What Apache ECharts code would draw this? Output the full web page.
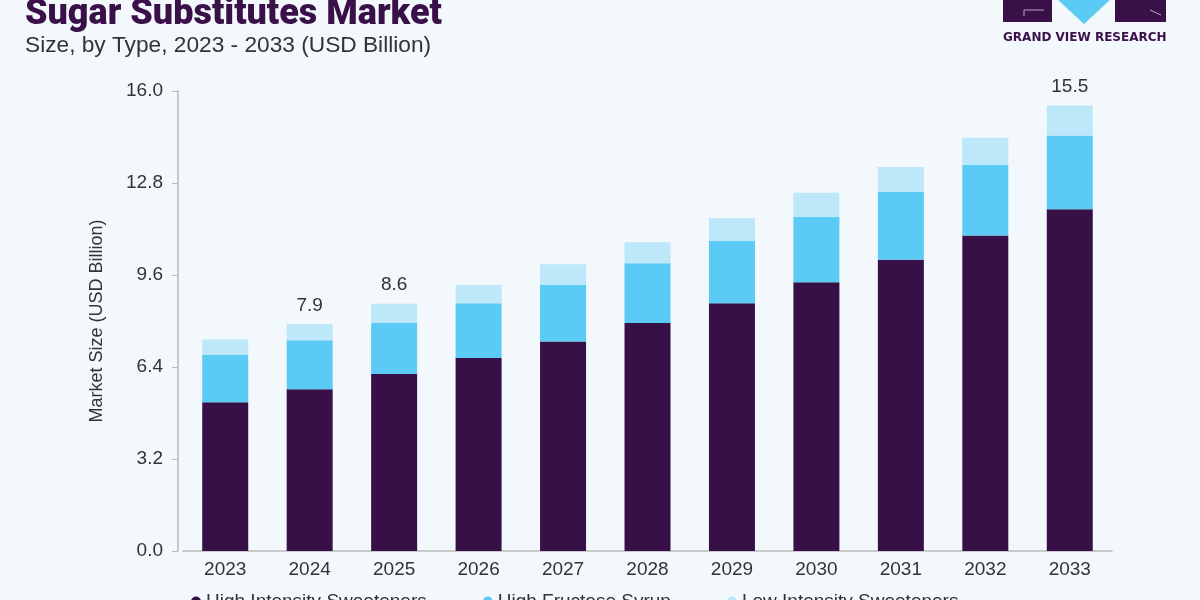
<!DOCTYPE html>
<html>
<head>
<meta charset="utf-8">
<title>Sugar Substitutes Market</title>
<script src="https://cdn.jsdelivr.net/npm/echarts@6/dist/echarts.min.js"></script>
<style>
  html, body { margin: 0; padding: 0; background: #f3f8fc; }
  #chart { width: 1200px; height: 600px; }
</style>
</head>
<body>
<div id="chart"></div>
<script>
// data (USD Billion)
const years = ['2023', '2024', '2025', '2026', '2027', '2028', '2029', '2030', '2031', '2032', '2033'];
const highIntensity = [5.17, 5.63, 6.16, 6.71, 7.29, 7.93, 8.62, 9.35, 10.13, 10.97, 11.89];
const highFructose = [1.65, 1.70, 1.79, 1.91, 1.96, 2.08, 2.16, 2.28, 2.36, 2.46, 2.56];
const lowIntensity = [0.54, 0.57, 0.65, 0.63, 0.72, 0.73, 0.80, 0.83, 0.87, 0.94, 1.05];
// only these years carry a total on top of the bar
const labelledYears = ['2024', '2025', '2033'];

const seriesNames = ['High Intensity Sweeteners', 'High Fructose Syrup', 'Low Intensity Sweeteners'];
const colors = ['#371047', '#5bcaf5', '#bde8fa'];
const font = 'Liberation Sans';

const chart = echarts.init(document.getElementById('chart'));

function totalLabel(p) {
  if (labelledYears.indexOf(years[p.dataIndex]) < 0) return '';
  const i = p.dataIndex;
  return (highIntensity[i] + highFructose[i] + lowIntensity[i]).toFixed(1);
}

const option = {
  backgroundColor: '#f3f8fc',
  animation: false,
  title: [{
    text: 'Sugar Substitutes Market',
    left: 20,
    top: -8,
    textStyle: { fontFamily: 'Roboto', fontWeight: 900, fontSize: 36, color: '#3a1048' },
  }, {
    text: 'Size, by Type, 2023 - 2033 (USD Billion)',
    left: 20,
    top: 29,
    textStyle: { fontFamily: font, fontWeight: 'normal', fontSize: 22.7, color: '#333' },
  }],
  graphic: [
    // logo
    { type: 'rect', shape: { x: 1003, y: -2, width: 49, height: 24 }, style: { fill: '#3a1048' } },
    { type: 'rect', shape: { x: 1115, y: -2, width: 51, height: 24 }, style: { fill: '#3a1048' } },
    { type: 'polygon', shape: { points: [[1056, -2], [1112, -2], [1084, 24]] }, style: { fill: '#5bcaf5' } },
    { type: 'polyline', shape: { points: [[1044, 10], [1024, 10], [1024, 16]] }, style: { stroke: '#b9a6c4', lineWidth: 1, fill: null } },
    { type: 'polyline', shape: { points: [[1150, 10], [1161, 15]] }, style: { stroke: '#b9a6c4', lineWidth: 1, fill: null } },
    {
      type: 'text', left: 1003, top: 32,
      style: { text: 'GRAND VIEW RESEARCH', fill: '#3a1048', font: 'bold 12px "DejaVu Sans"' },
    },
  ],
  legend: {
    bottom: -16,
    left: 186,
    icon: 'circle',
    itemWidth: 10,
    itemHeight: 10,
    itemGap: 56,
    textStyle: { fontFamily: font, fontSize: 19, color: '#333' },
    data: seriesNames,
  },
  grid: { left: 183, right: 88, top: 91, bottom: 49 },
  xAxis: {
    type: 'category',
    data: years,
    axisLine: { lineStyle: { color: '#b9b9b9', width: 1.5 } },
    axisTick: { show: false },
    axisLabel: { fontFamily: font, fontSize: 19, color: '#333', margin: 9 },
  },
  yAxis: {
    type: 'value',
    min: 0,
    max: 16,
    interval: 3.2,
    offset: 5,
    name: 'Market Size (USD Billion)',
    nameLocation: 'middle',
    nameGap: 72,
    nameTextStyle: { fontFamily: font, fontSize: 18, color: '#333' },
    splitLine: { show: false },
    axisLine: { show: true, lineStyle: { color: '#b9b9b9', width: 1.5 } },
    axisTick: { show: true, length: 6, lineStyle: { color: '#b9b9b9' } },
    axisLabel: {
      fontFamily: font, fontSize: 19, color: '#333', margin: 15,
      formatter: (v) => v.toFixed(1),
    },
  },
  series: [{
    name: seriesNames[0],
    type: 'bar',
    stack: 'total',
    barWidth: 46,
    itemStyle: { color: colors[0] },
    data: highIntensity,
  }, {
    name: seriesNames[1],
    type: 'bar',
    stack: 'total',
    barWidth: 46,
    itemStyle: { color: colors[1] },
    data: highFructose,
  }, {
    name: seriesNames[2],
    type: 'bar',
    stack: 'total',
    barWidth: 46,
    itemStyle: { color: colors[2] },
    label: {
      show: true,
      position: 'top',
      distance: 9,
      fontFamily: font,
      fontSize: 19,
      color: '#333',
      formatter: totalLabel,
    },
    data: lowIntensity,
  }],
};

chart.setOption(option);
window.addEventListener('resize', () => {
  chart.resize();
});
</script>
</body>
</html>
